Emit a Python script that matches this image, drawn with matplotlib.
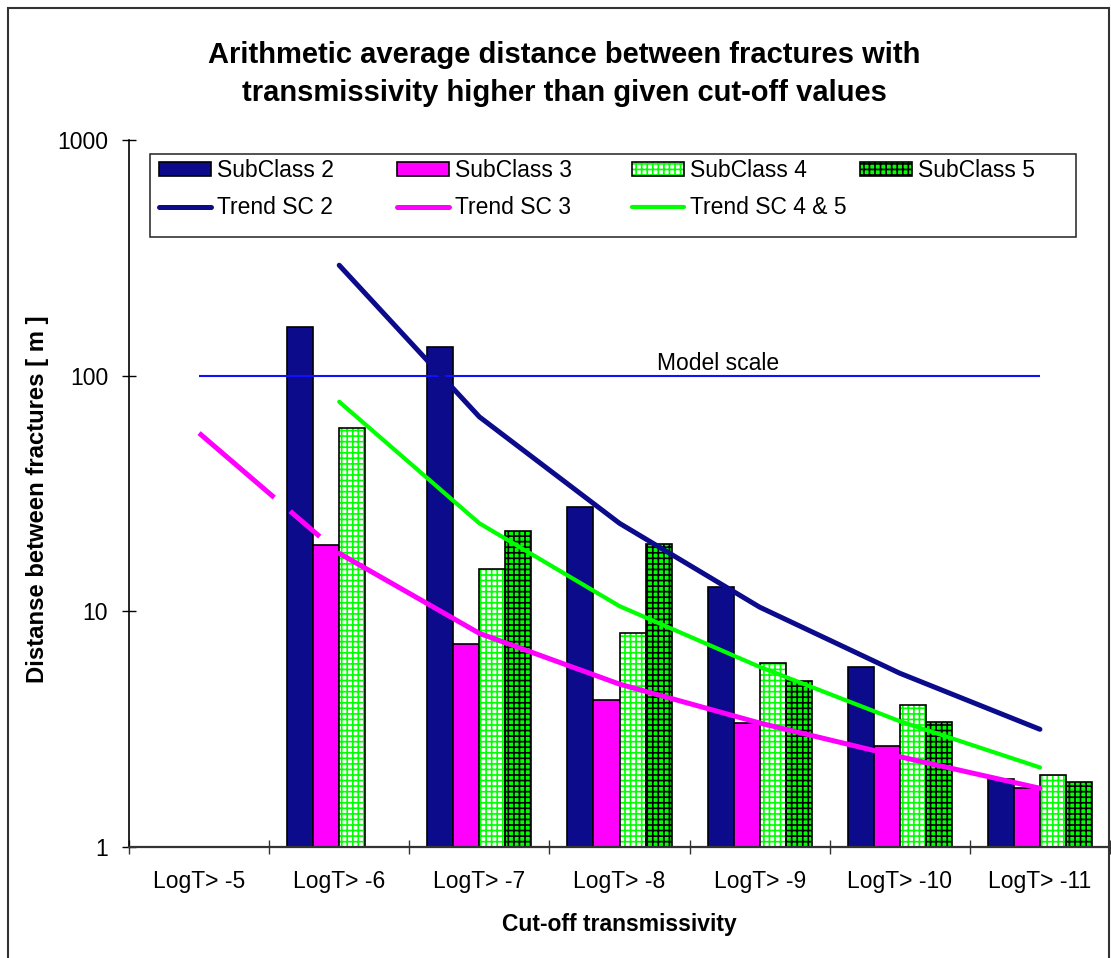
import numpy as np
import matplotlib
matplotlib.use('Agg')
import matplotlib.pyplot as plt
from matplotlib.patches import Rectangle
from matplotlib.legend import Legend
from matplotlib.ticker import FixedLocator, NullLocator, FixedFormatter, NullFormatter

plt.rcParams['font.family'] = ['Liberation Sans', 'DejaVu Sans']
plt.rcParams['hatch.linewidth'] = 1.2

# ---------------- data ----------------
categories = ['LogT> -5', 'LogT> -6', 'LogT> -7', 'LogT> -8', 'LogT> -9', 'LogT> -10', 'LogT> -11']
subclass2 = [np.nan, 161, 132, 27.7, 12.6, 5.8, 1.94]
subclass3 = [np.nan, 19.1, 7.25, 4.2, 3.34, 2.68, 1.77]
subclass4 = [np.nan, 60, 15.1, 8.05, 6.0, 4.0, 2.02]
subclass5 = [np.nan, np.nan, 21.9, 19.3, 5.05, 3.39, 1.88]

trend_categories = categories[1:]
trend_sc2 = [294, 66.8, 23.6, 10.4, 5.45, 3.15]
trend_sc3 = [17.6, 8.05, 4.9, 3.35, 2.41, 1.77]
trend_sc45 = [77.4, 23.6, 10.5, 5.8, 3.41, 2.17]
trend_sc3_ext_categories = categories[:2]
trend_sc3_ext = [57, 17.6]
model_scale = 100
yticks = [1, 10, 100, 1000]

title_lines = ['Arithmetic average distance between fractures with',
               'transmissivity higher than given cut-off values']

# ---------------- style ----------------
NAVY = '#0B0B8B'
MAGENTA = '#FF00FF'
LIME = '#00FF00'
W, H = 1111, 958

fig = plt.figure(figsize=(W / 100, H / 100), dpi=100)
fig.patch.set_facecolor('white')
ax = fig.add_axes([129 / W, 1 - 846.7 / H, (1110 - 129) / W, (846.7 - 140) / H])

x = np.arange(len(categories))
pos = {c: i for i, c in enumerate(categories)}
bw = 0.186
offs = np.array([-1.5, -0.5, 0.5, 1.5]) * bw

b2 = ax.bar(x + offs[0], subclass2, bw, color=NAVY, edgecolor='black', linewidth=1.2, zorder=2)
b3 = ax.bar(x + offs[1], subclass3, bw, color=MAGENTA, edgecolor='black', linewidth=1.2, zorder=2)
b4f = ax.bar(x + offs[2], subclass4, bw, color='white', edgecolor=LIME, linewidth=0, hatch='+++', zorder=2)
b4e = ax.bar(x + offs[2], subclass4, bw, fill=False, edgecolor='black', linewidth=1.2, zorder=2.1)
b5 = ax.bar(x + offs[3], subclass5, bw, color=LIME, edgecolor='black', linewidth=1.2, hatch='+++', zorder=2)

# model scale
ax.hlines(model_scale, x[0], x[-1], colors='#1010FF', linewidth=1.5, zorder=3)
ax.annotate('Model scale', xy=(3.7, model_scale), xytext=(0, 4), textcoords='offset points',
            ha='center', va='baseline', fontsize=16.5, zorder=3)

# trends
tx = [pos[c] for c in trend_categories]
l2, = ax.plot(tx, trend_sc2, color=NAVY, lw=3.6, solid_capstyle='round', solid_joinstyle='round', zorder=4)
l3, = ax.plot(tx, trend_sc3, color=MAGENTA, lw=3.6, solid_capstyle='round', solid_joinstyle='round', zorder=4)
l45, = ax.plot(tx, trend_sc45, color=LIME, lw=3.0, solid_capstyle='round', solid_joinstyle='round', zorder=4)
tex = [pos[c] for c in trend_sc3_ext_categories]
ax.plot(tex, trend_sc3_ext, color=MAGENTA, lw=3.6, dashes=(19.8, 4.2, 7.8, 8.0),
        dash_capstyle='butt', zorder=4)

# axes
ax.set_yscale('log')
ax.set_ylim(1, 1000)
ax.set_xlim(-0.5, len(categories) - 0.5)
ax.yaxis.set_major_locator(FixedLocator(yticks))
ax.yaxis.set_major_formatter(FixedFormatter([str(v) for v in yticks]))
ax.yaxis.set_minor_locator(NullLocator())
ax.xaxis.set_major_locator(FixedLocator(np.arange(len(categories) + 1) - 0.5))
ax.xaxis.set_major_formatter(NullFormatter())
ax.xaxis.set_minor_locator(FixedLocator(x))
ax.xaxis.set_minor_formatter(FixedFormatter(categories))
ax.tick_params(axis='x', which='major', direction='inout', length=10, width=1, color='#333333')
ax.tick_params(axis='x', which='minor', length=0, pad=17, labelsize=16.5)
ax.tick_params(axis='y', which='major', direction='inout', length=10, width=1, pad=10, labelsize=16.5)
for s in ['top', 'right']:
    ax.spines[s].set_visible(False)
ax.spines['left'].set_linewidth(1.2)
ax.spines['bottom'].set_linewidth(1.6)
ax.spines['bottom'].set_color('#333333')

ax.set_xlabel('Cut-off transmissivity', fontsize=16.5, fontweight='bold', va='top')
ax.xaxis.set_label_coords(0.5, (846.7 - 913) / 706.7)
ax.set_ylabel('Distanse between fractures [ m ]', fontsize=17.2, fontweight='bold')
ax.yaxis.set_label_coords((49 - 129) / 981, (846.7 - 499) / 706.7)

# title
fig.text(564 / W, 1 - 63 / H, title_lines[0], ha='center', va='baseline', fontsize=21, fontweight='bold')
fig.text(564 / W, 1 - 101 / H, title_lines[1], ha='center', va='baseline', fontsize=21, fontweight='bold')

# legend frame + four columns
def ax_x(px):
    return (px - 129) / 981

def ax_y(py):
    return 1 - (py - 140) / 706.7

frame = Rectangle((ax_x(150), ax_y(237)), ax_x(1076) - ax_x(150), ax_y(154) - ax_y(237),
                  transform=ax.transAxes, facecolor='white', edgecolor='#222222', lw=1.1, zorder=6)
ax.add_patch(frame)
cols = [([b2, l2], ['SubClass 2', 'Trend SC 2']),
        ([b3, l3], ['SubClass 3', 'Trend SC 3']),
        ([(b4f, b4e), l45], ['SubClass 4', 'Trend SC 4 & 5']),
        ([b5], ['SubClass 5'])]
col_x = [159, 397, 632, 860]
for (hs, ls), cx in zip(cols, col_x):
    leg = Legend(ax, hs, ls, loc='upper left', bbox_to_anchor=(ax_x(cx), ax_y(159)),
                 bbox_transform=ax.transAxes, frameon=False, fontsize=16.5,
                 handlelength=2.25, handleheight=0.6, handletextpad=0.3,
                 labelspacing=0.62, borderpad=0, borderaxespad=0)
    leg.set_zorder(7)
    ax.add_artist(leg)

# outer chart frame
fig.add_artist(Rectangle((8 / W, -0.05), (1109 - 8) / W, (H - 8) / H + 0.05,
                         transform=fig.transFigure, fill=False, edgecolor='#333333', lw=1.5))

fig.savefig('out.png', dpi=100)
